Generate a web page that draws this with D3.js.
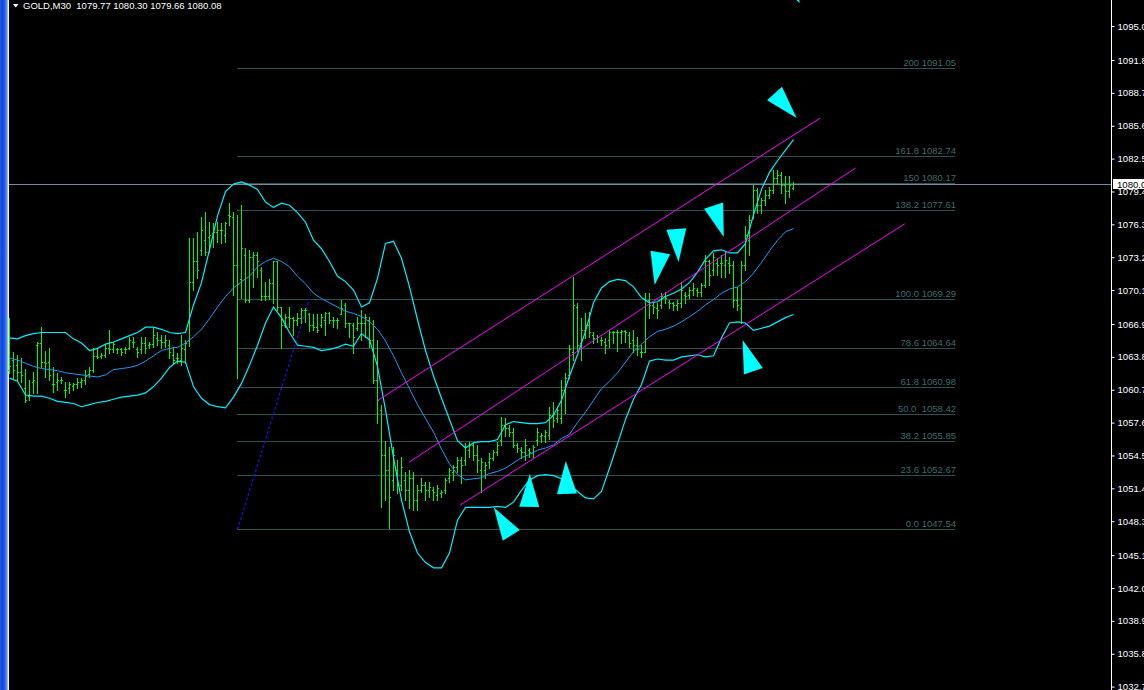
<!DOCTYPE html>
<html><head><meta charset="utf-8">
<script src="https://cdn.jsdelivr.net/npm/d3@7"></script>
<style>
html,body{margin:0;padding:0;background:#000;overflow:hidden}
svg{display:block}
text{font-family:"Liberation Sans",Arial,sans-serif}
</style></head><body>
<svg id="c" width="1144" height="690"></svg>
<script>
// ---------- DATA ----------
const symbolName = "GOLD,M30";
const lastQuote = [1079.77, 1080.30, 1079.66, 1080.08]; // O H L C of last bar
const currentPrice = 1080.08;

const barOpen = [
1062.6,1063.5,1063.0,1062.4,1060.9,1060.1,1061.4,1064.9,1065.1,1063.3,
1063.3,1061.2,1061.4,1061.6,1060.7,1060.9,1061.1,1061.2,1061.4,1061.6,
1062.2,1062.6,1063.9,1063.9,1064.0,1064.6,1064.5,1064.5,1064.5,1064.5,
1064.6,1065.2,1064.5,1064.5,1065.1,1064.9,1065.0,1065.6,1065.4,1065.2,
1064.9,1064.0,1063.7,1063.5,1064.5,1065.4,1070.9,1072.8,1073.9,1074.8,
1075.1,1075.5,1075.6,1075.8,1075.3,1077.2,1077.0,1072.5,1071.1,1073.4,
1069.2,1073.2,1073.4,1072.0,1069.5,1069.5,1070.8,1072.8,1068.5,1066.8,
1067.6,1067.5,1067.3,1067.5,1068.2,1067.8,1066.8,1066.6,1066.8,1067.3,
1067.9,1067.3,1067.3,1067.8,1068.7,1067.0,1066.8,1066.5,1067.0,1067.0,
1067.3,1065.4,1061.6,1058.8,1054.5,1053.1,1052.2,1053.1,1051.7,1052.2,
1051.2,1052.4,1050.3,1051.2,1051.7,1051.2,1051.2,1050.8,1051.0,1051.2,
1052.4,1052.9,1053.4,1054.1,1054.1,1055.0,1055.5,1054.5,1053.1,1053.1,
1053.9,1054.3,1054.8,1056.0,1057.4,1057.1,1056.7,1055.5,1055.0,1054.8,
1055.0,1054.8,1056.0,1056.3,1056.3,1056.4,1058.3,1058.0,1058.0,1060.7,
1062.1,1064.3,1068.5,1065.1,1066.3,1066.8,1065.9,1065.6,1065.4,1065.2,
1065.4,1066.1,1066.1,1066.1,1066.2,1065.9,1065.4,1064.9,1064.3,1064.3,
1069.2,1068.7,1068.4,1068.7,1069.5,1069.0,1068.9,1068.7,1068.9,1069.6,
1069.6,1070.1,1070.1,1069.9,1070.6,1072.8,1072.0,1072.7,1072.7,1072.5,
1072.7,1072.5,1069.2,1068.4,1072.5,1074.8,1076.9,1079.5,1078.1,1078.6,
1079.1,1079.5,1080.7,1081.0,1080.0,1079.4,1079.77];
const barHigh = [
1067.5,1064.3,1064.0,1063.7,1062.7,1061.6,1062.4,1065.2,1066.6,1064.4,
1064.6,1062.8,1062.3,1061.9,1061.4,1061.4,1061.3,1061.8,1061.8,1062.6,
1062.8,1064.6,1064.6,1064.2,1064.9,1066.3,1065.2,1064.6,1064.6,1064.7,
1065.7,1065.7,1064.7,1065.7,1065.7,1065.2,1066.5,1066.1,1065.9,1065.9,
1065.4,1064.7,1064.2,1065.9,1065.4,1075.0,1075.0,1075.6,1077.0,1077.5,
1076.5,1076.4,1076.5,1076.4,1076.5,1078.3,1077.5,1077.2,1078.1,1074.1,
1073.9,1073.7,1073.7,1072.3,1070.9,1071.1,1072.8,1072.8,1068.5,1067.8,
1068.5,1067.6,1067.9,1068.4,1068.4,1067.9,1067.8,1067.8,1067.8,1068.0,
1068.0,1067.6,1067.5,1069.2,1068.9,1067.0,1067.0,1067.6,1068.2,1067.8,
1067.6,1067.3,1065.4,1059.3,1055.9,1055.3,1055.3,1054.1,1054.4,1052.9,
1053.1,1052.9,1051.7,1052.4,1052.0,1052.0,1051.5,1051.7,1051.2,1052.4,
1053.3,1053.6,1054.4,1054.4,1055.7,1055.8,1055.8,1055.5,1054.3,1053.9,
1054.7,1055.0,1055.8,1058.1,1058.0,1057.4,1057.1,1055.7,1055.3,1056.1,
1055.2,1055.5,1057.1,1056.6,1056.9,1059.1,1059.5,1059.1,1061.6,1062.3,
1064.9,1071.3,1068.9,1067.5,1067.9,1068.0,1066.1,1065.9,1065.7,1065.6,
1066.3,1066.2,1066.3,1066.3,1066.3,1066.1,1066.3,1065.7,1064.9,1069.8,
1069.8,1068.9,1068.9,1069.8,1069.9,1069.2,1069.0,1069.2,1070.9,1069.9,
1070.4,1070.8,1070.3,1070.8,1073.4,1072.9,1073.6,1073.1,1073.4,1073.7,
1073.2,1072.8,1070.4,1072.8,1076.1,1077.2,1080.0,1079.7,1078.8,1079.5,
1079.8,1081.4,1081.4,1081.2,1080.9,1080.9,1080.30];
const barLow = [
1062.3,1061.8,1061.6,1061.4,1059.5,1059.7,1060.4,1060.4,1062.8,1061.9,
1061.6,1060.5,1060.7,1061.3,1060.0,1060.4,1060.7,1060.9,1061.0,1061.2,
1061.9,1062.4,1063.7,1063.7,1063.8,1064.2,1064.3,1064.2,1064.0,1064.2,
1064.5,1064.7,1063.8,1064.2,1064.2,1064.6,1064.7,1064.9,1064.6,1064.7,
1063.7,1063.2,1063.2,1063.0,1063.2,1064.8,1070.1,1071.2,1073.4,1073.4,
1073.7,1074.2,1074.6,1074.5,1074.6,1076.2,1069.6,1061.8,1069.4,1069.0,
1069.0,1070.4,1071.3,1069.2,1069.2,1069.3,1068.9,1068.2,1064.6,1066.6,
1066.6,1065.9,1066.8,1067.0,1067.1,1066.2,1066.3,1066.1,1066.6,1065.9,
1067.0,1066.6,1066.5,1067.8,1066.6,1065.7,1064.2,1066.3,1065.4,1065.7,
1064.7,1061.3,1057.6,1049.6,1050.3,1047.7,1051.2,1051.0,1051.2,1050.3,
1049.5,1049.4,1049.4,1051.1,1050.3,1050.6,1050.3,1050.3,1050.6,1051.0,
1052.0,1052.2,1052.9,1051.9,1053.6,1054.4,1054.1,1052.9,1051.1,1052.4,
1053.3,1054.1,1054.5,1055.5,1056.3,1056.3,1055.3,1054.8,1054.3,1054.1,
1054.4,1054.4,1055.5,1055.8,1055.8,1056.1,1057.2,1057.7,1057.6,1058.5,
1061.8,1063.5,1064.4,1063.5,1065.6,1065.7,1065.1,1065.2,1064.9,1064.2,
1064.7,1065.1,1064.4,1065.1,1065.2,1064.7,1064.3,1064.0,1063.8,1064.3,
1067.5,1067.9,1067.5,1068.4,1068.9,1068.4,1068.2,1068.2,1068.5,1068.9,
1069.4,1069.6,1069.5,1069.5,1070.4,1070.6,1071.5,1071.5,1071.3,1071.3,
1071.7,1068.5,1068.2,1067.0,1072.0,1073.4,1076.9,1077.4,1077.4,1078.1,
1078.8,1079.3,1080.2,1079.3,1078.3,1078.9,1079.66];
const barClose = [
1062.9,1062.6,1062.4,1062.1,1059.7,1060.2,1061.6,1065.1,1063.3,1063.2,
1062.1,1061.2,1061.6,1061.6,1060.7,1061.2,1061.2,1061.4,1061.6,1062.0,
1062.6,1063.9,1063.8,1064.0,1064.6,1064.5,1065.0,1064.5,1064.3,1064.5,
1065.4,1065.2,1064.3,1065.1,1064.6,1065.0,1065.9,1065.4,1065.2,1065.4,
1064.3,1063.5,1063.7,1064.6,1065.1,1070.9,1072.8,1072.0,1075.8,1073.7,
1075.3,1075.6,1075.8,1075.8,1076.4,1077.1,1072.5,1070.7,1074.1,1069.2,
1073.2,1073.4,1072.8,1069.5,1069.5,1070.8,1072.8,1068.5,1066.8,1067.6,
1067.5,1067.3,1067.5,1068.2,1068.2,1066.8,1066.6,1066.3,1067.6,1067.9,
1067.3,1067.3,1067.3,1068.4,1067.0,1067.0,1065.7,1067.0,1067.0,1067.6,
1065.4,1061.6,1059.7,1054.5,1053.1,1050.6,1054.5,1051.7,1053.4,1051.2,
1052.4,1050.3,1051.2,1051.7,1051.2,1051.5,1051.1,1051.4,1051.1,1052.2,
1053.1,1053.4,1054.1,1053.6,1055.3,1055.5,1054.5,1054.1,1053.9,1053.6,
1054.3,1054.8,1055.5,1057.4,1057.1,1056.7,1055.5,1055.2,1054.8,1055.5,
1054.8,1055.3,1056.7,1056.4,1056.7,1058.3,1057.8,1058.8,1060.7,1061.8,
1064.5,1068.7,1064.9,1066.3,1066.8,1066.1,1065.6,1065.7,1065.4,1064.9,
1066.1,1066.1,1066.1,1066.2,1066.1,1065.1,1064.9,1064.5,1064.3,1069.2,
1068.7,1068.5,1068.2,1069.5,1069.4,1068.9,1068.7,1068.9,1070.1,1069.5,
1070.1,1070.3,1069.9,1070.6,1072.8,1071.5,1073.2,1072.5,1072.7,1072.9,
1072.5,1069.2,1068.7,1072.5,1075.3,1076.7,1079.5,1078.1,1078.6,1079.1,
1079.5,1080.7,1081.0,1080.0,1079.4,1080.0,1080.08];

// Bollinger bands, one value every 2 bars (bar 0, 2, 4, ...)
const bandStep = 2;
const upperBand = [
1065.6,1065.5,1065.8,1066.0,1066.1,1066.1,1066.1,1066.1,1065.5,1065.1,
1064.4,1064.6,1065.0,1065.2,1065.5,1065.8,1066.1,1066.6,1066.6,1066.4,
1066.1,1066.0,1066.1,1068.7,1070.8,1073.9,1077.1,1079.4,1080.1,1080.3,
1080.0,1079.6,1078.4,1077.9,1078.3,1078.1,1077.4,1076.5,1074.8,1074.0,
1072.8,1071.4,1070.9,1070.1,1068.5,1068.9,1071.2,1074.5,1074.7,1073.1,
1070.4,1067.3,1064.4,1062.0,1059.9,1057.9,1055.9,1055.2,1055.7,1055.8,
1055.8,1056.0,1057.4,1057.7,1057.6,1057.5,1057.5,1057.6,1058.3,1059.7,
1062.0,1064.0,1066.2,1068.9,1070.3,1070.9,1071.1,1071.0,1070.4,1069.4,
1068.9,1069.0,1069.5,1069.8,1070.2,1070.8,1071.8,1073.0,1073.8,1073.9,
1073.6,1073.6,1074.5,1077.2,1079.6,1081.2,1082.3,1083.3,1084.3];
const middleBand = [
1063.7,1063.5,1063.2,1062.9,1062.7,1062.6,1062.5,1062.3,1062.2,1062.1,
1062.0,1061.9,1062.1,1062.6,1062.7,1062.8,1063.0,1063.4,1063.9,1064.4,
1064.6,1064.7,1065.1,1065.7,1066.4,1067.4,1068.5,1069.5,1070.3,1070.9,
1071.4,1072.3,1072.8,1073.1,1072.8,1072.3,1071.4,1070.7,1069.8,1069.3,
1068.9,1068.5,1068.1,1067.9,1067.6,1067.1,1066.4,1065.3,1063.9,1062.3,
1060.8,1059.3,1058.0,1056.7,1055.1,1053.7,1052.7,1052.2,1052.3,1052.4,
1052.8,1053.0,1053.3,1053.8,1054.3,1054.6,1055.0,1055.2,1055.5,1056.1,
1056.5,1057.6,1058.6,1059.7,1060.8,1061.5,1062.3,1063.3,1064.3,1065.0,
1065.7,1066.2,1066.4,1066.7,1067.1,1067.6,1068.1,1068.7,1069.2,1069.8,
1070.2,1070.4,1070.9,1071.7,1072.7,1073.8,1074.8,1075.6,1075.9];
const lowerBand = [
1061.8,1061.5,1060.2,1060.1,1060.1,1059.9,1059.6,1059.5,1059.4,1059.1,
1059.3,1059.5,1059.6,1059.8,1060.0,1060.1,1060.2,1060.4,1061.0,1061.8,
1062.8,1063.4,1063.3,1061.0,1059.9,1059.3,1059.1,1059.0,1060.0,1061.3,
1063.0,1064.9,1067.0,1068.5,1067.5,1066.1,1064.9,1064.8,1064.7,1064.4,
1064.5,1064.7,1065.0,1064.8,1066.0,1065.4,1062.9,1058.8,1054.3,1050.3,
1047.3,1045.3,1044.4,1043.9,1043.9,1045.3,1048.4,1049.6,1049.6,1049.6,
1049.6,1049.7,1049.6,1050.1,1051.2,1052.2,1052.6,1052.7,1052.6,1052.3,
1051.8,1051.1,1050.5,1050.4,1051.1,1053.3,1055.6,1057.9,1059.8,1061.2,
1063.4,1063.6,1063.5,1063.5,1063.8,1063.9,1064.0,1063.8,1063.9,1065.6,
1067.0,1067.1,1067.0,1066.3,1066.5,1066.7,1067.1,1067.5,1067.8];

// Fibonacci retracement
const fibLevels = [0, 23.6, 38.2, 50, 61.8, 78.6, 100, 138.2, 150, 161.8, 200];
const fibPrices = [1047.54, 1052.67, 1055.85, 1058.42, 1060.98, 1064.64, 1069.29, 1077.61, 1080.17, 1082.74, 1091.05];
const fibLabels = ["0.0 1047.54","23.6 1052.67","38.2 1055.85","50.0  1058.42","61.8 1060.98","78.6 1064.64","100.0 1069.29","138.2 1077.61","150 1080.17","161.8 1082.74","200 1091.05"];
const fibAnchorBars = [57, 75];
const fibAnchorPrices = [1047.54, 1069.29];
const fibEndBar = 236.5;

// Equidistant channel (3 parallel lines): start/end bar and price
const channelStartBar = [92.2, 100.0, 112.85];
const channelStartPrice = [1059.7, 1053.86, 1049.84];
const channelEndBar = [202.7, 211.6, 223.9];
const channelEndPrice = [1086.3, 1081.6, 1076.34];

// Arrow objects: tip bar, tip price, pointing angle (deg, screen)
const arrowBar = [197.7, 196.9, 178.7, 167.4, 161.4, 183.4, 139.2, 130.2, 121.2];
const arrowPrice = [1097.15, 1086.33, 1075.1, 1072.75, 1070.58, 1065.39, 1053.98, 1052.76, 1049.6];
const arrowAngle = [62, 48, 72, 86, 100, -109, -92, -89, -122];

// Price axis tick labels
const priceTicks = [1095.0,1091.8,1088.7,1085.6,1082.5,1079.4,1076.3,1073.2,1070.1,1066.9,1063.8,1060.7,1057.6,1054.5,1051.4,1048.3,1045.1,1042.0,1038.9,1035.8,1032.7];

// ---------- DRAW ----------
const W = 1144, H = 690, axisX = 1111;
const N = barOpen.length;
const svg = d3.select("#c");
const x = d3.scaleLinear().domain([0, N - 1]).range([9, 9 + 4 * (N - 1)]);
const y = d3.scaleLinear().domain([1032.38, 1097.46]).range([H, 0]);
const py = v => Math.round(y(v));

svg.append("rect").attr("width", W).attr("height", H).attr("fill", "#000");

// window frame strip on the left
const defs = svg.append("defs");
const g0 = defs.append("linearGradient").attr("id", "frame").attr("x1", 0).attr("x2", 1);
g0.append("stop").attr("offset", "0").attr("stop-color", "#2a5ad6");
g0.append("stop").attr("offset", "0.4").attr("stop-color", "#0a44e6");
g0.append("stop").attr("offset", "0.75").attr("stop-color", "#2e6cf2");
g0.append("stop").attr("offset", "1").attr("stop-color", "#6a94e6");
svg.append("rect").attr("x", 0).attr("y", 0).attr("width", 7).attr("height", H).attr("fill", "url(#frame)");
svg.append("rect").attr("x", 7).attr("y", 0).attr("width", 1).attr("height", H).attr("fill", "#9fb4dc");
svg.append("rect").attr("x", 8).attr("y", 0).attr("width", 1).attr("height", H).attr("fill", "#f0f0f0");

const plot = svg.append("g");

// fib levels
const fibG = plot.append("g");
fibPrices.forEach((p, i) => {
  fibG.append("line")
    .attr("x1", Math.round(x(fibAnchorBars[0]))).attr("x2", Math.round(x(fibEndBar)))
    .attr("y1", py(p) + 0.5).attr("y2", py(p) + 0.5)
    .attr("stroke", "#2f5050").attr("stroke-width", 1).attr("shape-rendering", "crispEdges");
  fibG.append("text")
    .attr("x", Math.round(x(fibEndBar)) + 1).attr("y", py(p) - 2)
    .attr("text-anchor", "end").attr("font-size", "9.5px").attr("fill", "#3f6b6b")
    .style("white-space", "pre").text(fibLabels[i]);
});

// current price line
plot.append("line").attr("x1", 9).attr("x2", axisX)
  .attr("y1", py(currentPrice) + 0.5).attr("y2", py(currentPrice) + 0.5)
  .attr("stroke", "#7a8a9a").attr("shape-rendering", "crispEdges");

// fib trendline (dotted)
plot.append("line")
  .attr("x1", x(fibAnchorBars[0]) + 0.5).attr("y1", y(fibAnchorPrices[0]))
  .attr("x2", x(fibAnchorBars[1]) + 0.5).attr("y2", y(fibAnchorPrices[1]))
  .attr("stroke", "#1414e6").attr("stroke-width", 1.2).attr("stroke-dasharray", "3,2");

// bars (OHLC)
const barG = plot.append("g").attr("fill", "#00f800").attr("shape-rendering", "crispEdges");
for (let i = 0; i < N; i++) {
  const bx = Math.round(x(i));
  const yh = py(barHigh[i]), yl = py(barLow[i]);
  barG.append("rect").attr("x", bx).attr("y", yh).attr("width", 1).attr("height", Math.max(1, yl - yh + 1));
  barG.append("rect").attr("x", bx - 1).attr("y", py(barOpen[i])).attr("width", 1).attr("height", 1);
  barG.append("rect").attr("x", bx + 1).attr("y", py(barClose[i])).attr("width", 1).attr("height", 1);
}

// bands
const bandLine = d3.line().x((d, i) => x(i * bandStep) + 0.5).y(d => y(d));
plot.append("path").attr("d", bandLine(middleBand)).attr("fill", "none").attr("stroke", "#1e9cff").attr("stroke-width", 1);
plot.append("path").attr("d", bandLine(upperBand)).attr("fill", "none").attr("stroke", "#00f0ff").attr("stroke-width", 1.2);
plot.append("path").attr("d", bandLine(lowerBand)).attr("fill", "none").attr("stroke", "#00f0ff").attr("stroke-width", 1.2);

// channel
channelStartBar.forEach((b, i) => {
  plot.append("line")
    .attr("x1", x(b)).attr("y1", y(channelStartPrice[i]))
    .attr("x2", x(channelEndBar[i])).attr("y2", y(channelEndPrice[i]))
    .attr("stroke", "#ff00ff").attr("stroke-width", 1);
});

// arrows
const arrowLen = 33, arrowHalf = 10;
arrowBar.forEach((b, i) => {
  const tx = x(b), ty = y(arrowPrice[i]);
  const a = arrowAngle[i] * Math.PI / 180;
  const bx = tx - arrowLen * Math.cos(a), by = ty - arrowLen * Math.sin(a);
  const nx = -Math.sin(a) * arrowHalf, ny = Math.cos(a) * arrowHalf;
  plot.append("polygon")
    .attr("points", [[tx, ty], [bx + nx, by + ny], [bx - nx, by - ny]].map(p => p.join(",")).join(" "))
    .attr("fill", "#00ffff");
});

// price axis
const axisG = svg.append("g").attr("transform", `translate(${axisX + 0.5},0)`)
  .call(d3.axisRight(y).tickValues(priceTicks).tickFormat(d3.format(".1f")).tickSize(3).tickPadding(3));
axisG.select(".domain").attr("stroke", "#fff").attr("d", `M0,0V${H}`);
axisG.selectAll(".tick line").attr("stroke", "#fff");
axisG.selectAll(".tick text").attr("fill", "#fff").attr("font-size", "9.6px")
  .attr("font-family", "Liberation Sans, Arial, sans-serif");

// current price label (the quote is wider than the strip and runs past the edge, as in the terminal)
const cpy = py(currentPrice);
svg.append("rect").attr("x", axisX + 2).attr("y", cpy - 5).attr("width", W - axisX - 2).attr("height", 10).attr("fill", "#fff");
svg.append("text").attr("x", axisX + 6).attr("y", cpy + 3.5).attr("font-size", "9.6px").attr("fill", "#000")
  .text(d3.format(".2f")(currentPrice));

// header
svg.append("polygon").attr("points", "13,4 18.5,4 15.75,7.5").attr("fill", "#fff");
svg.append("text").attr("x", 23).attr("y", 9).attr("font-size", "9.5px").attr("fill", "#fff")
  .style("white-space", "pre")
  .text(symbolName + "  " + lastQuote.map(d3.format(".2f")).join(" "));
</script>
</body></html>
